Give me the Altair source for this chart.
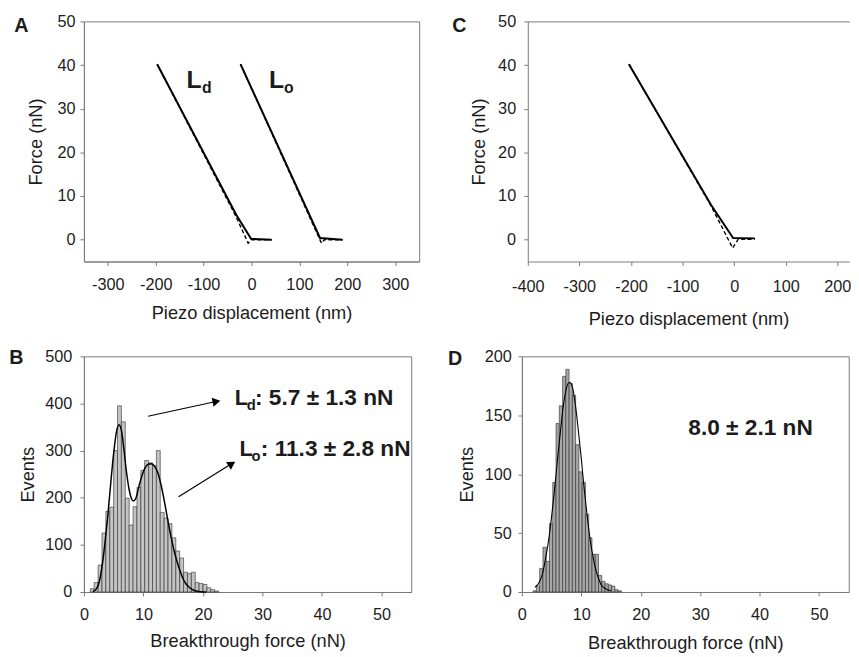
import altair as alt
import pandas as pd

FONT = "Liberation Sans"
AXIS_GRAY = "#7a7a7a"
TEXT = "#1c1c1c"

# ---------------- Panel A : force curves (nm, nN) ----------------
A_LD_APP_X = [-197, -32, -1, 42]
A_LD_APP_Y = [40.2, 5.7, 0.2, 0.0]
A_LD_RET_X = [-197, -32, -7, 0, 42]
A_LD_RET_Y = [40.2, 5.2, -0.8, 0.0, 0.0]
A_LO_APP_X = [-23, 143, 190]
A_LO_APP_Y = [40.2, 0.4, 0.0]
A_LO_RET_X = [-23, 146, 152, 190]
A_LO_RET_Y = [40.2, -0.8, 0.0, 0.0]
A_L_X = [-135.9, 36.5]
A_L_Y = [34.8, 34.8]
A_L_T = ["L", "L"]
A_SUB_X = [-103.5, 68.0]
A_SUB_Y = [33.6, 33.6]
A_SUB_T = ["d", "o"]

# ---------------- Panel C : force curves ----------------
C_APP_X = [-204, -45, -2, 40]
C_APP_Y = [40.2, 8.0, 0.4, 0.3]
C_RET_X = [-204, -45, -3, 8, 40]
C_RET_Y = [40.2, 7.8, -1.9, 0.1, 0.1]

# ---------------- Panel B : histogram (nN, events) ----------------
B_CENTERS = [1.40, 2.05, 2.71, 3.36, 4.01, 4.67, 5.32, 5.97, 6.62, 7.28, 7.93,
             8.58, 9.24, 9.89, 10.54, 11.20, 11.85, 12.50, 13.15, 13.80, 14.46,
             15.11, 15.76, 16.42, 17.07, 17.72, 18.38, 19.03, 19.68, 20.34,
             20.99, 21.64, 22.30]
B_EVENTS = [7, 20, 57, 125, 171, 180, 300, 395, 361, 199, 142,
            181, 222, 258, 279, 274, 268, 300, 169, 157, 145,
            115, 87, 72, 42, 39, 42, 20, 18, 16,
            9, 5, 2]
B_BIN = 0.65
B_FIT_X = [1.5, 2.0, 2.5, 3.0, 3.5, 4.0, 4.5, 5.0, 5.5, 5.9, 6.3, 6.7, 7.1, 7.6,
           8.0, 8.3, 8.7, 9.2, 9.8, 10.3, 10.8, 11.3, 11.8, 12.5, 13.0, 13.6,
           14.2, 14.75, 15.3, 15.9, 16.5, 17.0, 17.6, 18.1, 18.8, 19.7, 20.5]
B_FIT_Y = [1, 5, 18, 50, 100, 160, 230, 295, 342, 355, 343, 305, 260, 217,
           198, 193, 198, 222, 249, 264, 271, 272, 268, 250, 225, 187,
           145, 110, 80, 54, 33, 20, 11, 6, 2, 0.5, 0]
B_L_X = [25.35, 26.13]
B_L_Y = [396, 288]
B_SUB_X = [27.34, 28.16]
B_SUB_Y = [385.4, 277]
B_SUB_T = ["d", "o"]
B_VAL_X = [28.75, 29.72]
B_VAL_Y = [396, 288]
B_VAL_T = [": 5.7 \u00b1 1.3 nN", ": 11.3 \u00b1 2.8 nN"]
ARROW_X0 = [10.77, 15.9]
ARROW_Y0 = [373, 202]
ARROW_X1 = [22.4, 25.0]
ARROW_Y1 = [404.8, 273.5]
HEAD_X = [22.27, 24.85]
HEAD_Y = [404.3, 272.2]
HEAD_ANGLE = [348, 328]

# ---------------- Panel D : histogram ----------------
D_CENTERS = [2.17, 2.72, 3.27, 3.82, 4.37, 4.92, 5.47, 6.02, 6.57, 7.12,
             7.67, 8.22, 8.77, 9.32, 9.87, 10.42, 10.97, 11.52, 12.07, 12.62,
             13.17, 13.72, 14.27, 14.82, 15.37, 15.92, 16.47]
D_EVENTS = [1, 5, 20, 38, 26, 58, 93, 143, 158, 183,
            189, 177, 167, 125, 102, 93, 66, 46, 32, 32,
            14, 9, 7, 6, 5, 2, 1]
D_BIN = 0.55
D_FIT_X = [2.2, 3.0, 3.5, 4.0, 4.5, 5.0, 5.5, 6.0, 6.5, 7.0, 7.5, 8.0, 8.5,
           9.0, 9.5, 10.0, 10.5, 11.0, 11.5, 12.0, 12.5, 13.0, 13.5, 14.0, 15.0]
D_FIT_Y = [4, 9, 16, 29, 44, 64, 87, 113, 137, 159, 173, 178, 174,
           159, 137, 113, 87, 64, 44, 29, 18, 10, 5, 3, 1]
D_TXT_X = [28.0]
D_TXT_Y = [133.5]
D_TXT_T = ["8.0 \u00b1 2.1 nN"]

HYPHEN_LABEL = "'' + datum.value"


def curves_df(groups):
    rows = []
    for name, xs, ys in groups:
        for i, (x, y) in enumerate(zip(xs, ys)):
            rows.append({"x": x, "y": y, "curve": name, "i": i})
    return pd.DataFrame(rows)


def hist_df(centers, events, width):
    return pd.DataFrame({
        "x0": [c - width / 2 for c in centers],
        "x1": [c + width / 2 for c in centers],
        "v": events,
    })


def text_df(xs, ys, ts):
    return pd.DataFrame({"x": xs, "y": ys, "t": ts})


def letter(t, dx, dy):
    return alt.Chart(pd.DataFrame({"t": [t]})).mark_text(
        align="left", baseline="alphabetic", font=FONT, fontSize=20,
        fontWeight="bold", color=TEXT
    ).encode(text="t:N", x=alt.value(dx), y=alt.value(dy))


def textmark(df, x, y, size):
    return alt.Chart(df).mark_text(
        align="left", baseline="alphabetic", font=FONT, fontSize=size,
        fontWeight="bold", color=TEXT
    ).encode(x=x, y=y, text="t:N")


def sc(lo, hi):
    return alt.Scale(domain=[lo, hi], nice=False, zero=False, padding=0)


# ---------- A ----------
xA = alt.X("x:Q", scale=sc(-350, 350),
           axis=alt.Axis(values=[-300, -200, -100, 0, 100, 200, 300], labelExpr=HYPHEN_LABEL,
                         title="Piezo displacement (nm)", labelPadding=11.8, titlePadding=10.7))
yA = alt.Y("y:Q", scale=sc(-5, 50),
           axis=alt.Axis(values=[0, 10, 20, 30, 40, 50], title="Force (nN)",
                         labelPadding=5, titlePadding=11.6))

a_app = curves_df([("Ld", A_LD_APP_X, A_LD_APP_Y), ("Lo", A_LO_APP_X, A_LO_APP_Y)])
a_ret = curves_df([("Ld", A_LD_RET_X, A_LD_RET_Y), ("Lo", A_LO_RET_X, A_LO_RET_Y)])

A = alt.layer(
    alt.Chart(a_ret).mark_line(color="black", strokeWidth=1.4, strokeDash=[4, 2.5]).encode(
        x=xA, y=yA, detail="curve:N", order="i:Q"),
    alt.Chart(a_app).mark_line(color="black", strokeWidth=2).encode(
        x=xA, y=yA, detail="curve:N", order="i:Q"),
    textmark(text_df(A_L_X, A_L_Y, A_L_T), xA, yA, 25),
    textmark(text_df(A_SUB_X, A_SUB_Y, A_SUB_T), xA, yA, 16),
    letter("A", -70.7, 10.3),
).properties(width=340, height=243.5)

# ---------- C ----------
xC = alt.X("x:Q", scale=sc(-400, 223),
           axis=alt.Axis(values=[-400, -300, -200, -100, 0, 100, 200], labelExpr=HYPHEN_LABEL,
                         title="Piezo displacement (nm)", labelPadding=13.7, titlePadding=14.6))
xCtop = alt.X("x:Q", scale=sc(-400, 223),
              axis=alt.Axis(orient="top", labels=False, ticks=False, title=None, domain=True))
yC = alt.Y("y:Q", scale=sc(-5, 50),
           axis=alt.Axis(values=[0, 10, 20, 30, 40, 50], title="Force (nN)",
                         labelPadding=8.3, titlePadding=9.3))
c_app = curves_df([("c", C_APP_X, C_APP_Y)])
c_ret = curves_df([("c", C_RET_X, C_RET_Y)])

C = alt.layer(
    alt.Chart(c_ret).mark_line(color="black", strokeWidth=1.4, strokeDash=[4, 2.5]).encode(
        x=xC, y=yC, order="i:Q"),
    alt.Chart(c_app).mark_line(color="black", strokeWidth=2).encode(
        x=xCtop, y=yC, order="i:Q"),
    letter("C", -76.6, 11),
).resolve_axis(x="independent").properties(
    width=326, height=243.5, view=alt.ViewBackground(strokeOpacity=0))

# ---------- B ----------
xB = alt.X("x0:Q", scale=sc(0, 55),
           axis=alt.Axis(values=[0, 10, 20, 30, 40, 50], title="Breakthrough force (nN)",
                         labelPadding=10.5, titlePadding=9.6))
yB = alt.Y("v:Q", scale=sc(0, 500),
           axis=alt.Axis(values=[0, 100, 200, 300, 400, 500], title="Events",
                         labelPadding=8.3, titlePadding=7))
xBp = alt.X("x:Q", scale=sc(0, 55),
            axis=alt.Axis(values=[0, 10, 20, 30, 40, 50], title="Breakthrough force (nN)",
                          labelPadding=10.5, titlePadding=9.6))
yBp = alt.Y("y:Q", scale=sc(0, 500),
            axis=alt.Axis(values=[0, 100, 200, 300, 400, 500], title="Events",
                          labelPadding=8.3, titlePadding=7))

b_arrows = pd.DataFrame({"x": ARROW_X0, "y": ARROW_Y0, "x2": ARROW_X1, "y2": ARROW_Y1})
b_heads = pd.DataFrame({"x": HEAD_X, "y": HEAD_Y, "a": HEAD_ANGLE})

B = alt.layer(
    alt.Chart(hist_df(B_CENTERS, B_EVENTS, B_BIN)).mark_bar(
        fill="#c4c4c4", stroke="#2a2a2a", strokeWidth=0.6, orient="vertical").encode(
        x=xB, x2="x1:Q", y=yB, y2=alt.datum(0)),
    alt.Chart(pd.DataFrame({"x": B_FIT_X, "y": B_FIT_Y})).mark_line(
        color="black", strokeWidth=1.5, interpolate="monotone").encode(x=xBp, y=yBp),
    alt.Chart(b_arrows).mark_rule(color="black", strokeWidth=1.2).encode(
        x=xBp, y=yBp, x2="x2:Q", y2="y2:Q"),
    alt.Chart(b_heads).mark_point(shape="triangle-right", filled=True, size=85,
                                  color="black", opacity=1).encode(
        x=xBp, y=yBp, angle=alt.Angle("a:Q", scale=None)),
    textmark(text_df(B_L_X, B_L_Y, ["L", "L"]), xBp, yBp, 22),
    textmark(text_df(B_SUB_X, B_SUB_Y, B_SUB_T), xBp, yBp, 15),
    textmark(text_df(B_VAL_X, B_VAL_Y, B_VAL_T), xBp, yBp, 23),
    letter("B", -75.7, 8),
).properties(width=332, height=239)

# ---------- D ----------
xD = alt.X("x0:Q", scale=sc(0, 55),
           axis=alt.Axis(values=[0, 10, 20, 30, 40, 50], title="Breakthrough force (nN)",
                         labelPadding=10.8, titlePadding=10.6))
yD = alt.Y("v:Q", scale=sc(0, 200),
           axis=alt.Axis(values=[0, 50, 100, 150, 200], title="Events",
                         labelPadding=6.7, titlePadding=7.9))
xDp = alt.X("x:Q", scale=sc(0, 55),
            axis=alt.Axis(values=[0, 10, 20, 30, 40, 50], title="Breakthrough force (nN)",
                          labelPadding=10.8, titlePadding=10.6))
yDp = alt.Y("y:Q", scale=sc(0, 200),
            axis=alt.Axis(values=[0, 50, 100, 150, 200], title="Events",
                          labelPadding=6.7, titlePadding=7.9))

D = alt.layer(
    alt.Chart(hist_df(D_CENTERS, D_EVENTS, D_BIN)).mark_bar(
        fill="#a8a8a8", stroke="#2a2a2a", strokeWidth=0.6, orient="vertical").encode(
        x=xD, x2="x1:Q", y=yD, y2=alt.datum(0)),
    alt.Chart(pd.DataFrame({"x": D_FIT_X, "y": D_FIT_Y})).mark_line(
        color="black", strokeWidth=1.1, interpolate="monotone").encode(x=xDp, y=yDp),
    textmark(text_df(D_TXT_X, D_TXT_Y, D_TXT_T), xDp, yDp, 23),
    letter("D", -75, 8.3),
).properties(width=331.5, height=239)

chart = alt.vconcat(
    alt.hconcat(A, C, spacing=32.2),
    alt.hconcat(B, D, spacing=35.2),
    spacing=19.7,
).properties(
    padding={"left": 0, "top": 0, "right": 0, "bottom": 0}
).configure(font=FONT).configure_axis(
    labelFont=FONT, titleFont=FONT, labelFontSize=16.5, titleFontSize=18.5,
    titleFontWeight="normal", labelColor=TEXT, titleColor=TEXT,
    domainColor=AXIS_GRAY, tickColor=AXIS_GRAY, tickSize=4, grid=False,
    labelFlush=False, labelOverlap=False,
).configure_view(stroke=AXIS_GRAY, strokeWidth=1)

chart.save("out.html", embed_options={"renderer": "svg", "actions": False})
